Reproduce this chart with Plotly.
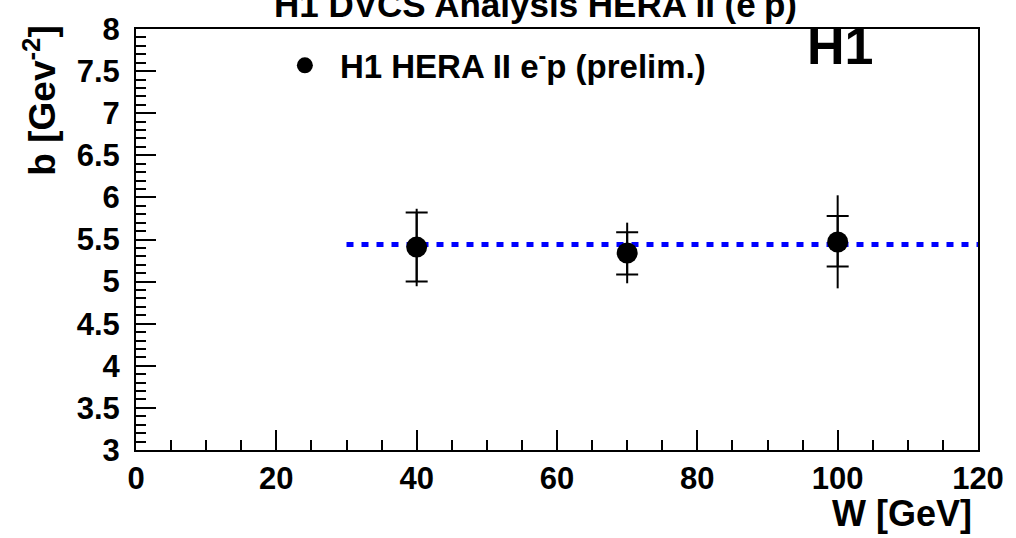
import plotly.graph_objects as go

# Data
w_values = [40, 70, 100]
b_values = [5.41, 5.34, 5.47]
stat_up = [0.41, 0.245, 0.31]
stat_down = [0.41, 0.255, 0.29]
tot_up = [0.455, 0.36, 0.555]
tot_down = [0.465, 0.36, 0.55]
fit_w = [30, 120]
fit_b = [5.44, 5.44]

x_ticks = [0, 20, 40, 60, 80, 100, 120]
y_ticks = [3, 3.5, 4, 4.5, 5, 5.5, 6, 6.5, 7, 7.5, 8]

FONT = "Liberation Sans"

fig = go.Figure()

fig.add_trace(go.Scatter(
    x=fit_w, y=fit_b, mode="lines",
    line=dict(color="#0000ff", width=5, dash="7px,8px"),
    showlegend=False, hoverinfo="skip"))

fig.add_trace(go.Scatter(
    x=w_values, y=b_values, mode="markers",
    marker=dict(size=0.1, color="black"),
    error_y=dict(type="data", symmetric=False, array=tot_up, arrayminus=tot_down,
                 width=0, thickness=2, color="black"),
    showlegend=False, hoverinfo="skip"))

fig.add_trace(go.Scatter(
    x=w_values, y=b_values, mode="markers",
    name="H1 HERA II e<sup>-</sup>p (prelim.)",
    marker=dict(size=21, color="black", symbol="circle"),
    error_y=dict(type="data", symmetric=False, array=stat_up, arrayminus=stat_down,
                 width=11, thickness=2, color="black"),
    showlegend=True))

axis_common = dict(
    showgrid=False, zeroline=False, showline=True, linecolor="black", linewidth=2,
    mirror=True, ticks="inside", ticklen=20, tickwidth=2, tickcolor="black",
    tickfont=dict(family=FONT, size=31, color="black", weight="bold"),
)

fig.update_xaxes(range=[0, 120], tickvals=x_ticks, ticktext=[str(v) for v in x_ticks],
                 minor=dict(dtick=5, ticks="inside", ticklen=10, tickwidth=2, tickcolor="black"),
                 ticklabelstandoff=0,
                 **axis_common)
fig.update_yaxes(range=[3, 8], tickvals=y_ticks, ticktext=[("%g" % v) for v in y_ticks],
                 minor=dict(dtick=0.1, ticks="inside", ticklen=10, tickwidth=2, tickcolor="black"),
                 ticklabelstandoff=8,
                 **axis_common)

fig.update_layout(
    width=1016, height=538,
    margin=dict(l=136, r=37, t=20, b=88),
    paper_bgcolor="white", plot_bgcolor="white",
    font=dict(family=FONT, color="black"),
    legend=dict(x=0.159, y=0.98, xanchor="left", yanchor="top",
                itemwidth=60,
                bgcolor="rgba(0,0,0,0)", borderwidth=0,
                font=dict(family=FONT, size=33, color="black", weight="bold")),
    annotations=[
        dict(text="H1 DVCS Analysis HERA II (e<sup>-</sup>p)", xref="paper", yref="paper",
             x=0.474, y=1.065, xanchor="center", yanchor="middle", showarrow=False,
             font=dict(family=FONT, size=35, color="black", weight="bold")),
        dict(text="H1", xref="paper", yref="paper", x=0.878, y=1.034,
             xanchor="right", yanchor="top", showarrow=False,
             font=dict(family=FONT, size=52, color="black", weight="bold")),
        dict(text="W [GeV]", xref="paper", yref="paper", x=0.995, y=-0.151,
             xanchor="right", yanchor="middle", showarrow=False,
             font=dict(family=FONT, size=36, color="black", weight="bold")),
        dict(text="b [Gev<sup>-2</sup>]", xref="paper", yref="paper", x=-0.1139, y=0.83,
             xanchor="center", yanchor="middle", textangle=-90, showarrow=False,
             font=dict(family=FONT, size=37, color="black", weight="bold")),
    ],
)

fig.write_html("out.html")
